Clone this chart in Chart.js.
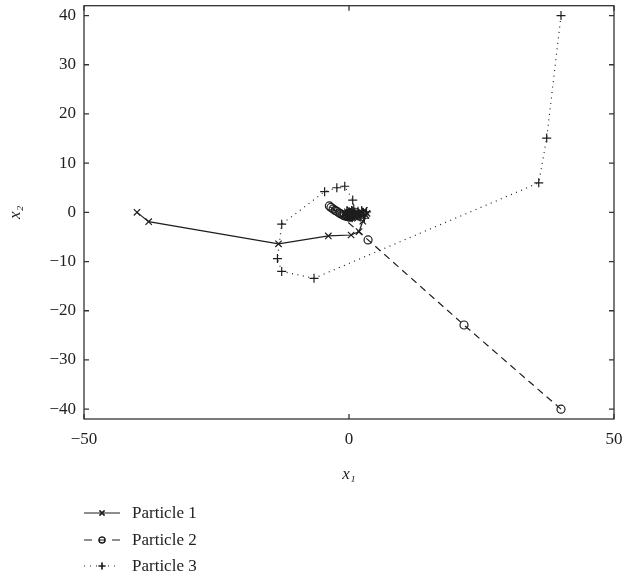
<!DOCTYPE html>
<html>
<head>
<meta charset="utf-8">
<script src="https://cdn.jsdelivr.net/npm/chart.js@4.4.0/dist/chart.umd.min.js"></script>
<style>
  html, body { margin: 0; padding: 0; background: #fff; }
  #wrap { position: relative; width: 626px; height: 581px; }
  #legend { position: absolute; left: 84px; top: 500px; font-family: "Liberation Serif", "DejaVu Serif", serif; font-size: 17px; color: #222; }
  .row { display: flex; align-items: center; height: 26.5px; }
  .row canvas { width: 36px; height: 20px; margin-right: 12px; }
</style>
</head>
<body>
<div id="wrap">
  <canvas id="chart"></canvas>
  <div id="legend"></div>
</div>
<script>
// particle trajectories
const p1x = [-40, -37.8, -13.3, -3.9, 0.4, 1.9, 2.6, 3.4, 2.9, 1.6, 3.2, 0.9, 2.2, 1.2, -0.4, 0.6, 1.8, 0.3, -0.8, 0.2, 1.0, 0.1, -0.3, 0.4, 0, 0.2, -0.1, 0.1, 0];
const p1y = [0, -1.9, -6.4, -4.8, -4.6, -3.9, -1.8, -0.2, 0.4, -1.2, -0.6, -0.4, 0.2, -1.0, -0.7, 0.3, -0.4, -0.9, -0.2, 0.5, -0.3, -0.6, 0.1, -0.2, -0.4, 0, -0.3, -0.1, -0.2];

const p2x = [40, 21.7, 3.6, -3.7, -3.4, -3.0, -2.6, -2.3, -1.9, -1.6, -1.2, -0.9, -0.5, -0.2, 0.1, 0.3, 0.0, -0.3, 0.2, 0.5, 0.1, -0.1, 0.3, 0.6, 0.2, 0.0];
const p2y = [-40, -22.9, -5.6, 1.3, 1.0, 0.7, 0.4, 0.2, -0.1, -0.3, -0.5, -0.7, -0.8, -0.9, -0.8, -0.6, -0.4, -0.6, -0.2, -0.5, -0.9, -0.3, -1.0, -0.7, -0.4, -0.6];

const p3x = [40, 37.3, 35.8, -6.6, -12.7, -13.5, -12.7, -4.6, -2.3, -0.8, 0.7, 0.9, 2.1, 3.3, 2.9, 2.4, 1.4, 0.6, 1.7, 2.8, 0.3, 1.1, -0.4, 0.5, 1.9, 0.2, -0.2, 0.4, 0.1];
const p3y = [40, 15.1, 6.0, -13.4, -12.0, -9.4, -2.4, 4.2, 5.0, 5.3, 2.5, 0.7, -0.9, 0.1, -1.2, 0.4, -0.5, -1.1, 0.2, -0.3, -0.2, -0.8, 0.3, 0.4, -0.6, -0.5, -0.1, -0.3, 0];

const labels = ['Particle 1', 'Particle 2', 'Particle 3'];
const xTicks = [-50, 0, 50];
const yTicks = [-40, -30, -20, -10, 0, 10, 20, 30, 40];

const ink = '#1e1e1e';
const serif = '"Liberation Serif", "DejaVu Serif", serif';

function pts(xs, ys){ return xs.map((x,i)=>({x, y: ys[i]})); }
const minus = v => String(v).replace('-', '\u2212');

const styles = [
  { pointStyle: 'crossRot', pointRadius: 4.5, borderDash: [], legendDash: [] },
  { pointStyle: 'circle', pointRadius: 4, borderDash: [7, 5], legendDash: [8, 7, 6, 7, 8] },
  { pointStyle: 'cross', pointRadius: 4.5, borderDash: [1, 4.5], legendDash: [1, 5] }
];
const series = [pts(p1x,p1y), pts(p2x,p2y), pts(p3x,p3y)];

const datasets = series.map((d,i)=>({
  label: labels[i],
  data: d,
  showLine: true,
  borderColor: ink,
  borderWidth: 1.2,
  borderDash: styles[i].borderDash,
  pointStyle: styles[i].pointStyle,
  pointRadius: styles[i].pointRadius,
  pointBorderColor: ink,
  pointBackgroundColor: 'rgba(0,0,0,0)',
  pointBorderWidth: 1.2,
  tension: 0
}));

// frame + inward tick marks on all four sides
const frame = {
  id: 'frame',
  afterDraw(chart){
    const {ctx, chartArea: a, scales} = chart;
    ctx.save();
    ctx.strokeStyle = '#333';
    ctx.lineWidth = 1.3;
    ctx.strokeRect(a.left, a.top, a.right - a.left, a.bottom - a.top);
    ctx.beginPath();
    yTicks.forEach(v=>{
      const y = scales.y.getPixelForValue(v);
      ctx.moveTo(a.left, y); ctx.lineTo(a.left + 5, y);
      ctx.moveTo(a.right, y); ctx.lineTo(a.right - 5, y);
    });
    xTicks.forEach(v=>{
      const x = scales.x.getPixelForValue(v);
      ctx.moveTo(x, a.bottom); ctx.lineTo(x, a.bottom - 5);
      ctx.moveTo(x, a.top); ctx.lineTo(x, a.top + 5);
    });
    ctx.stroke();
    ctx.restore();
  }
};

new Chart(document.getElementById('chart'), {
  type: 'scatter',
  data: { datasets },
  options: {
    responsive: true,
    maintainAspectRatio: false,
    animation: false,
    layout: { padding: { top: 3, right: 12, bottom: 82, left: 0 } },
    plugins: { legend: { display: false }, tooltip: { enabled: false } },
    scales: {
      x: {
        type: 'linear', min: -50, max: 50,
        afterBuildTicks: s => { s.ticks = xTicks.map(v=>({value:v})); },
        afterFit: s => { s.height = 80; s.paddingLeft = 0; s.paddingRight = 0; },
        grid: { display: false, drawTicks: false },
        border: { display: false },
        ticks: { padding: 10, color: ink, font: { family: serif, size: 17 }, callback: minus, maxRotation: 0 },
        title: { display: true, text: 'x\u2081', color: ink, font: { family: serif, size: 17, style: 'italic' }, padding: { top: 0, bottom: 14 } }
      },
      y: {
        type: 'linear', min: -42, max: 42,
        afterBuildTicks: s => { s.ticks = yTicks.map(v=>({value:v})); },
        afterFit: s => { s.width = 84; s.paddingTop = 0; s.paddingBottom = 0; },
        grid: { display: false, drawTicks: false },
        border: { display: false },
        ticks: { padding: 8, color: ink, font: { family: serif, size: 17 }, callback: minus },
        title: { display: true, text: 'x\u2082', color: ink, font: { family: serif, size: 17, style: 'italic' }, padding: { top: 5, bottom: 0 } }
      }
    }
  },
  plugins: [frame]
});

// legend rows: line sample with marker, then the label
const legendEl = document.getElementById('legend');
datasets.forEach((ds,i)=>{
  const row = document.createElement('div');
  row.className = 'row';
  const c = document.createElement('canvas');
  c.width = 36; c.height = 20;
  const g = c.getContext('2d');
  g.strokeStyle = ink; g.lineWidth = 1.2;
  g.fillStyle = 'rgba(0,0,0,0)';
  g.setLineDash(styles[i].legendDash);
  g.beginPath(); g.moveTo(0,10); g.lineTo(36,10); g.stroke();
  g.setLineDash([]);
  Chart.helpers.drawPoint(g, { pointStyle: ds.pointStyle, radius: i===1 ? 3 : 3.5, borderWidth: 1.2 }, 18, 10);
  g.stroke();
  const t = document.createElement('span');
  t.textContent = ds.label;
  row.appendChild(c); row.appendChild(t);
  legendEl.appendChild(row);
});
</script>
</body>
</html>
